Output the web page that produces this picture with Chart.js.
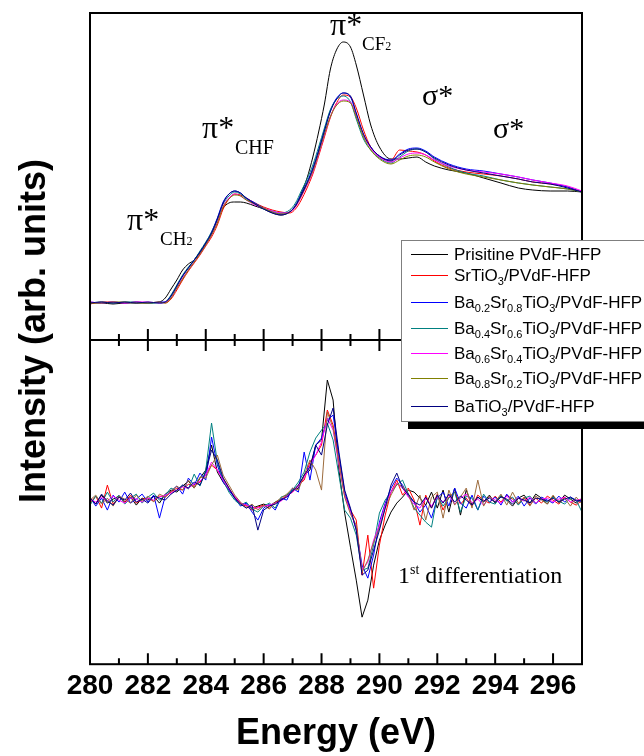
<!DOCTYPE html>
<html><head><meta charset="utf-8">
<script src="https://cdn.jsdelivr.net/npm/chart.js@4.4.1/dist/chart.umd.min.js"></script>
<style>
html,body{margin:0;padding:0;background:#fff;}
#wrap{position:relative;width:644px;height:756px;overflow:hidden;background:#fff;}
#c1{position:absolute;left:0;top:0;}
#c2{position:absolute;left:0;top:340px;}
.ann{position:absolute;font-family:"Liberation Serif","Times New Roman",serif;line-height:1;white-space:nowrap;color:#000;}
#ytitle{position:absolute;left:33px;top:331px;transform:translate(-50%,-50%) rotate(-90deg);font:bold 36px "Liberation Sans",Arial,sans-serif;line-height:1;white-space:nowrap;color:#000;}
#legend{position:absolute;left:401px;top:240px;width:270px;height:182px;border:1px solid #7f7f7f;background:#fff;box-shadow:7px 7px 0 #000;box-sizing:border-box;}
.lrow{position:absolute;left:0;height:20px;width:268px;font:17px "Liberation Sans",Arial,sans-serif;line-height:1;white-space:nowrap;color:#000;}
.lline{position:absolute;left:9px;width:37px;height:1px;top:0;}
.ltext{position:absolute;left:52px;top:-8px;}
.ltext sub{font-size:11px;vertical-align:-4px;line-height:0;}
</style></head>
<body>
<div id="wrap">
<canvas id="c1" width="644" height="340"></canvas>
<canvas id="c2" width="644" height="416"></canvas>
<div id="ytitle">Intensity (arb. units)</div>
<div class="ann" style="left:127px;top:203px;font-size:32px;">π*</div>
<div class="ann" style="left:160px;top:229px;font-size:19px;">CH<span style="font-size:12px;">2</span></div>
<div class="ann" style="left:202px;top:111px;font-size:32px;">π*</div>
<div class="ann" style="left:235px;top:137px;font-size:20px;">CHF</div>
<div class="ann" style="left:330px;top:8px;font-size:32px;">π*</div>
<div class="ann" style="left:362px;top:34px;font-size:19px;">CF<span style="font-size:12px;">2</span></div>
<div class="ann" style="left:422px;top:80px;font-size:30px;">σ*</div>
<div class="ann" style="left:493px;top:113px;font-size:30px;">σ*</div>
<div class="ann" style="left:398px;top:563px;font-size:24px;">1<span style="font-size:14px;vertical-align:9px;">st</span> differentiation</div>
<div id="legend"></div>
</div>
<script>
// ---------- data ----------
const xMin = 280, xMax = 297;
const xTickLabels = [280, 282, 284, 286, 288, 290, 292, 294, 296];

const seriesNames = [
  'Prisitine PVdF-HFP',
  'SrTiO3/PVdF-HFP',
  'Ba0.2Sr0.8TiO3/PVdF-HFP',
  'Ba0.4Sr0.6TiO3/PVdF-HFP',
  'Ba0.6Sr0.4TiO3/PVdF-HFP',
  'Ba0.8Sr0.2TiO3/PVdF-HFP',
  'BaTiO3/PVdF-HFP'
];
const legendLabels = [
  'Prisitine PVdF-HFP',
  'SrTiO<sub>3</sub>/PVdF-HFP',
  'Ba<sub>0.2</sub>Sr<sub>0.8</sub>TiO<sub>3</sub>/PVdF-HFP',
  'Ba<sub>0.4</sub>Sr<sub>0.6</sub>TiO<sub>3</sub>/PVdF-HFP',
  'Ba<sub>0.6</sub>Sr<sub>0.4</sub>TiO<sub>3</sub>/PVdF-HFP',
  'Ba<sub>0.8</sub>Sr<sub>0.2</sub>TiO<sub>3</sub>/PVdF-HFP',
  'BaTiO<sub>3</sub>/PVdF-HFP'
];
const seriesColors = ['#000000', '#ff0000', '#0000ff', '#008080', '#ff00ff', '#808000', '#000080'];
const lowerColors  = ['#000000', '#ff0000', '#0000ff', '#008080', '#ff00ff', '#9c6b3c', '#000080'];

// upper panel: NEXAFS spectra (arb. units)
const energyTop = [280,280.4,280.8,281.2,281.6,282.0,282.4,282.6,282.8,283.0,283.2,283.4,283.6,283.8,284.0,284.2,284.4,284.6,284.8,285.0,285.2,285.4,285.7,286.0,286.3,286.6,286.9,287.1,287.3,287.5,287.7,287.9,288.1,288.3,288.5,288.75,289.0,289.2,289.45,289.7,290.0,290.4,290.7,291.0,291.3,291.6,291.9,292.4,293.0,293.6,294.2,294.8,295.3,295.9,296.5,297.0];
const topPristine = [37,37,36,37,37,37,38,42,51,60,70,76,80,87,96,106,120,132,137,138,138,137,134,131,127,125,128,134,147,162,183,208,236,270,289,298,293,275,245,215,193,181,181,182,183,178,174,170,167,162,157,152,150,149,149,148];
const topSr   = [36,38,38,37,38,37,38,37,41,50,60,69,77,85,94,103,115,131,141,146,145,142,137,133,130,128,127,131,140,152,166,184,203,222,236,245,243,232,210,193,183,180,190,189,188,185,179,172,168,166,164,161,158,156,153,148];
const topBa02 = [38,37,38,37,38,37,38,38,44,54,64,72,80,88,97,108,122,138,146,149,147,142,137,132,128,126,128,135,146,158,172,190,210,229,241,247,243,226,205,193,184,180,186,191,192,189,183,176,171,169,166,163,160,157,153,148];
const topBa04 = [37,38,37,38,38,37,37,38,45,55,65,73,80,89,98,108,121,136,144,148,146,141,136,131,129,127,130,137,149,161,175,193,212,230,240,244,238,221,201,190,182,177,183,189,191,188,181,173,167,164,160,157,155,153,151,148];
const topBa06 = [38,37,38,37,38,38,37,38,42,52,62,70,78,86,95,105,118,134,142,146,144,140,135,132,129,127,128,133,143,155,168,186,205,223,235,240,238,224,205,192,183,178,182,186,187,185,180,174,170,168,166,163,160,157,154,149];
const topBa08 = [37,37,38,38,37,37,38,37,42,52,61,70,78,86,95,105,117,133,141,145,144,140,136,132,128,126,128,134,144,156,169,187,206,223,234,239,237,223,203,190,181,176,180,184,185,183,178,171,166,163,160,157,155,153,151,148];
const topBa10 = [37,38,37,38,37,38,37,38,44,54,64,72,80,88,97,107,121,137,146,149,147,142,136,131,127,125,128,134,145,157,171,189,209,228,240,247,244,227,206,193,184,179,185,190,191,188,182,175,170,167,164,161,158,156,152,148];

// lower panel: 1st differentiation, 0.2 eV steps from 280.0 to 297.0
const energyBottom = [280.0,280.2,280.4,280.6,280.8,281.0,281.2,281.4,281.6,281.8,282.0,282.2,282.4,282.6,282.8,283.0,283.2,283.4,283.6,283.8,284.0,284.2,284.4,284.6,284.8,285.0,285.2,285.4,285.6,285.8,286.0,286.2,286.4,286.6,286.8,287.0,287.2,287.4,287.6,287.8,288.0,288.2,288.4,288.6,288.8,289.0,289.2,289.4,289.6,289.8,290.0,290.2,290.4,290.6,290.8,291.0,291.2,291.4,291.6,291.8,292.0,292.2,292.4,292.6,292.8,293.0,293.2,293.4,293.6,293.8,294.0,294.2,294.4,294.6,294.8,295.0,295.2,295.4,295.6,295.8,296.0,296.2,296.4,296.6,296.8,297.0];
const dPristine = [2,-4,5,-3,1,4,-2,3,-5,2, 0,4,-3,6,10,8,14,19,12,22, 30,55,28,18,10,3,-3,-5,-8,-6, -4,-6,-2,0,4,10,12,25,30,55, 60,120,100,30,-13,-47,-80,-117,-100,-65, -40,-25,-12,-3,3,10,8,2,-5,8, -8,10,-12,12,-15,10,-5,3,-2,5, -3,4,0,-6,2,5,-3,6,2,-4, 4,-2,5,1,-3,2];
const dSr   = [-3,4,-8,15,-4,3,-2,5,-3,1, 2,-1,4,3,8,12,10,16,14,18, 25,35,30,22,12,3,-4,-6,-10,-7, -5,-8,-3,0,5,8,15,20,38,45, 55,90,75,40,5,-10,-20,-75,-35,-88, -45,-15,8,20,5,12,0,-25,5,-8, 6,-10,3,8,-4,2,-6,5,0,-3, 4,-2,5,1,-4,3,-5,2,-3,4, 0,-4,3,-2,-5,0];
const dBa02 = [3,-6,2,-10,5,-2,8,-3,1,6, -2,5,-18,4,9,14,6,22,15,27, 20,63,35,18,10,2,-6,-3,-12,-20, -8,-4,-10,2,0,12,8,48,20,55, 62,80,85,45,8,-10,-30,-65,-78,-55, -22,-3,12,22,15,4,-2,-12,-5,-18, 2,8,-6,12,-3,-8,5,-10,4,-2, 3,-5,6,-2,4,-6,2,-4,3,0, -3,4,-2,3,0,-2];
const dBa04 = [-5,4,-3,8,-2,5,-4,2,6,-3, 3,7,0,5,12,9,15,11,26,14, 30,77,38,20,8,0,-5,-2,-9,-12, -6,-3,-8,3,5,10,18,28,48,62, 70,77,60,25,-10,-18,-35,-70,-68,-45, -13,0,8,15,20,6,-8,-15,-22,-27, 4,-6,2,8,-12,4,2,-10,6,-2, -4,5,-1,3,-5,2,4,-3,1,-2, 3,-1,-4,2,0,-12];
const dBa06 = [1,-2,3,-1,4,0,-3,2,1,-2, 2,0,3,5,7,10,13,12,16,19, 25,38,30,20,11,4,-3,-5,-7,-8, -6,-5,-3,-1,4,8,14,22,35,45, 58,82,70,35,4,-12,-28,-70,-62,-40, -25,-5,8,17,12,3,-4,-8,2,-6, 3,-2,5,-4,2,6,-3,1,-5,3, 0,-3,4,-2,2,-1,3,-3,1,2, -2,1,3,-2,0,1];
const dBa08 = [0,5,-4,2,-6,4,1,-3,5,-1, 4,-2,6,3,9,14,10,20,12,23, 22,35,45,25,15,5,-2,-8,-4,-10, -5,-9,-2,2,6,12,10,25,40,30, 10,88,72,38,3,-14,-25,-72,-60,-42, -28,-8,5,16,14,6,-10,5,-20,3, 8,-18,10,-5,3,12,-8,20,-6,4, -2,6,-5,8,-3,2,-6,4,0,-4, 5,-3,2,-6,3,-4];
const dBa10 = [2,-4,6,-1,-5,3,0,7,-2,1, -3,4,2,0,6,10,15,12,18,15, 28,50,40,22,12,2,-4,-8,-5,-30, -10,-6,-4,0,3,9,15,25,33,55, 45,75,92,48,10,-8,-30,-75,-70,-50, -30,-8,15,27,12,6,-2,-5,3,-8, 5,-3,6,-2,4,0,-5,3,-1,2, -2,3,1,-4,2,0,-3,2,1,-1, 2,-2,1,3,-1,0];

const topSeries = [topPristine, topSr, topBa02, topBa04, topBa06, topBa08, topBa10];
const bottomSeries = [dPristine, dSr, dBa02, dBa04, dBa06, dBa08, dBa10];

// ---------- plugins ----------
const frameTicks = {
  id: 'frameTicks',
  afterDatasetsDraw(chart, args, opts) {
    const {ctx, chartArea: a, scales: {x}} = chart;
    ctx.save();
    ctx.strokeStyle = '#000';
    ctx.lineWidth = 2;
    ctx.strokeRect(a.left, a.top, a.right - a.left, a.bottom - a.top);
    ctx.beginPath();
    for (let e = xMin + 1; e < xMax; e++) {
      const px = x.getPixelForValue(e);
      const len = (e % 2 === 0) ? 11 : 6;
      if (opts.bottom) { ctx.moveTo(px, a.bottom); ctx.lineTo(px, a.bottom - len); }
      if (opts.top) { ctx.moveTo(px, a.top); ctx.lineTo(px, a.top + len); }
    }
    ctx.stroke();
    ctx.restore();
  }
};

function makeDatasets(xs, series, colors, smooth) {
  return series.map((ys, i) => ({
    label: seriesNames[i],
    data: xs.map((e, j) => ({x: e, y: ys[j]})),
    borderColor: colors[i],
    backgroundColor: colors[i],
    borderWidth: 1,
    pointRadius: 0,
    fill: false,
    tension: 0,
    cubicInterpolationMode: smooth ? 'monotone' : 'default'
  })).reverse();
}

const common = {
  responsive: false,
  animation: false,
  devicePixelRatio: 1,
  plugins: {legend: {display: false}, tooltip: {enabled: false}, title: {display: false}}
};

new Chart(document.getElementById('c1'), {
  type: 'line',
  data: {datasets: makeDatasets(energyTop, topSeries, seriesColors, true)},
  options: Object.assign({}, common, {
    layout: {padding: {left: 90, right: 62, top: 13, bottom: 0}},
    scales: {
      x: {type: 'linear', min: xMin, max: xMax, display: false},
      y: {type: 'linear', min: 0, max: 327, display: false}
    },
    plugins: Object.assign({}, common.plugins, {frameTicks: {top: false, bottom: true}})
  }),
  plugins: [frameTicks]
});

new Chart(document.getElementById('c2'), {
  type: 'line',
  data: {datasets: makeDatasets(energyBottom, bottomSeries, lowerColors, false)},
  options: Object.assign({}, common, {
    layout: {padding: {left: 90, right: 62, top: 0, bottom: 0}},
    scales: {
      x: {
        type: 'linear', min: xMin, max: xMax,
        grid: {display: false, drawTicks: false},
        border: {display: false},
        afterBuildTicks: (s) => { s.ticks = xTickLabels.map(v => ({value: v})); },
        ticks: {
          padding: 5, color: '#000', maxRotation: 0, autoSkip: false,
          font: {family: '"Liberation Sans", Arial, sans-serif', size: 28, weight: 'bold'}
        },
        title: {
          display: true, text: 'Energy (eV)', color: '#000',
          padding: {top: 5, bottom: 0},
          font: {family: '"Liberation Sans", Arial, sans-serif', size: 36, weight: 'bold'}
        }
      },
      y: {type: 'linear', min: -164, max: 160, display: false}
    },
    plugins: Object.assign({}, common.plugins, {frameTicks: {top: true, bottom: true}})
  }),
  plugins: [frameTicks]
});

// ---------- legend (HTML, for subscripts) ----------
const legendRowY = [254, 275, 302, 328, 353, 378, 406];
const lg = document.getElementById('legend');
legendLabels.forEach((lab, i) => {
  const row = document.createElement('div');
  row.className = 'lrow';
  row.style.top = (legendRowY[i] - 241) + 'px';
  row.innerHTML = '<div class="lline" style="background:' + seriesColors[i] + '"></div><div class="ltext">' + lab + '</div>';
  lg.appendChild(row);
});
</script>
</body></html>
